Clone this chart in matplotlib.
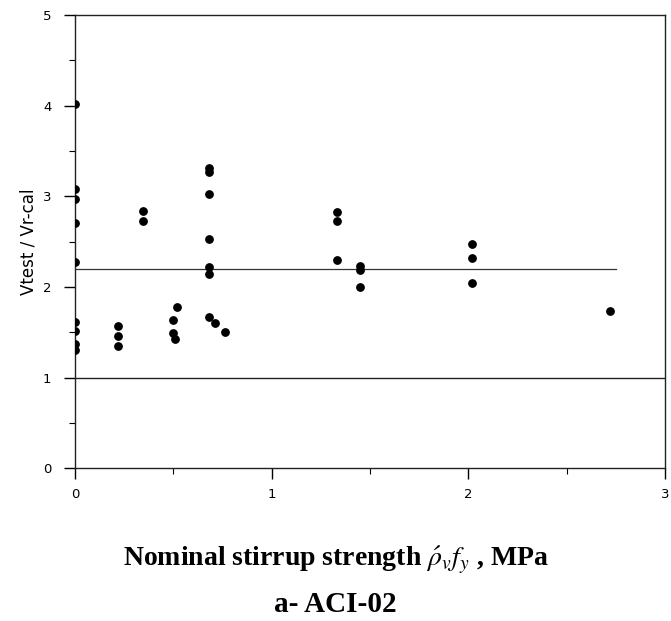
import matplotlib
matplotlib.use("Agg")
import matplotlib.pyplot as plt
from matplotlib.ticker import MultipleLocator

# stirrup strength (MPa) and Vtest / Vr-cal ratio
x_vals = [0, 0, 0, 0, 0, 0, 0, 0, 0,
          0.22, 0.22, 0.22,
          0.345, 0.345,
          0.52, 0.50, 0.50, 0.51,
          0.68, 0.68, 0.68, 0.68, 0.68, 0.68, 0.68, 0.71, 0.76,
          1.33, 1.33, 1.33,
          1.45, 1.45, 1.45,
          2.02, 2.02, 2.02,
          2.72]
y_vals = [4.02, 3.08, 2.97, 2.70, 2.28, 1.61, 1.51, 1.37, 1.30,
          1.57, 1.46, 1.35,
          2.84, 2.73,
          1.78, 1.63, 1.49, 1.43,
          3.31, 3.27, 3.02, 2.53, 2.22, 2.14, 1.67, 1.60, 1.50,
          2.83, 2.73, 2.30,
          2.23, 2.19, 2.00,
          2.47, 2.32, 2.04,
          1.73]

mean_level = 2.2
mean_span = [0, 2.75]
unity_level = 1.0

plt.rcParams['mathtext.fontset'] = 'stix'

fig = plt.figure(figsize=(6.71, 6.21), dpi=100)
ax = fig.add_axes([0.112, 0.246, 0.879, 0.730])

ax.scatter(x_vals, y_vals, s=28, color='black', zorder=3)
ax.plot(mean_span, [mean_level, mean_level], color='#333333', lw=0.9)
ax.axhline(unity_level, color='#222222', lw=1.0)

ax.set_xlim(0, 3)
ax.set_ylim(0, 5)
ax.xaxis.set_major_locator(MultipleLocator(1))
ax.xaxis.set_minor_locator(MultipleLocator(0.5))
ax.yaxis.set_major_locator(MultipleLocator(1))
ax.yaxis.set_minor_locator(MultipleLocator(0.5))
ax.tick_params(which='major', length=8, width=1, labelsize=9.5)
ax.tick_params(axis='x', which='major', pad=6)
ax.tick_params(axis='y', which='major', pad=9)
ax.tick_params(which='minor', length=4, width=0.8)
for s in ax.spines.values():
    s.set_linewidth(1.0)
    s.set_color('#222222')

ax.set_ylabel('Vtest / Vr-cal', fontsize=12, labelpad=4)

fig.text(0.5, 0.10, r'Nominal stirrup strength $\acute{\rho}_v f_y$ , MPa',
         ha='center', va='center', fontsize=20, fontweight='bold',
         family='Liberation Serif')
fig.text(0.5, 0.026, 'a- ACI-02', ha='center', va='center', fontsize=21,
         fontweight='bold', family='Liberation Serif')

fig.savefig('out.png', dpi=100)
